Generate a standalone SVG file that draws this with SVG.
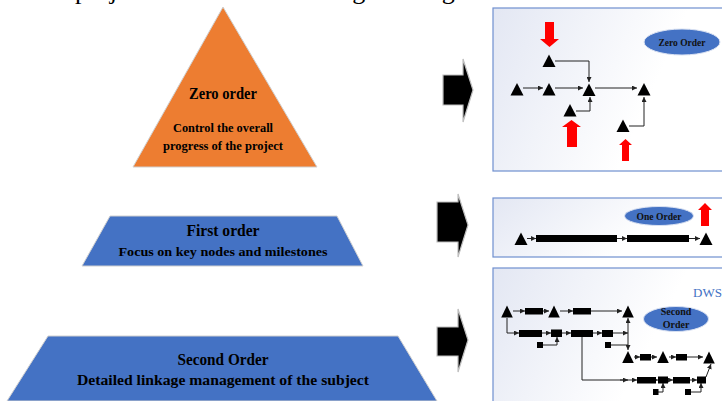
<svg xmlns="http://www.w3.org/2000/svg" xmlns:xlink="http://www.w3.org/1999/xlink" width="722" height="401" viewBox="0 0 722 401">
<style>
.cap{font-family:"Liberation Serif",serif;font-size:26px;fill:#000}
.ttl{font-family:"Liberation Serif",serif;font-weight:bold;font-size:16px;fill:#000;text-anchor:middle}
.sub{font-family:"Liberation Serif",serif;font-weight:bold;font-size:13px;fill:#000;text-anchor:middle}
.sub2{font-family:"Liberation Serif",serif;font-weight:bold;font-size:14.5px;fill:#000;text-anchor:middle}
.ell{fill:#4472C4;stroke:#D9E1F2;stroke-width:1}
.elt{font-family:"Liberation Serif",serif;font-weight:bold;font-size:10px;fill:#111;text-anchor:middle}
.panel{fill:url(#pg);stroke:#6F8FCF;stroke-width:1.2}
.blk{fill:#000;stroke:#BFBFBF;stroke-width:1.2}
.red{fill:#FF0000}
.ln{fill:none;stroke:#222;stroke-width:1;marker-end:url(#ah)}
.lnp{fill:none;stroke:#222;stroke-width:1}
.bar{fill:#000}
</style>
<defs>
<linearGradient id="pg" x1="0" y1="0" x2="1" y2="0.3">
<stop offset="0" stop-color="#E3E7F3"/>
<stop offset="0.75" stop-color="#FFFFFF"/>
</linearGradient>
<polygon id="tri" points="0,-6.5 6.5,6 -6.5,6" fill="#000"/>
<polygon id="tris" points="0,-6 5.8,6 -5.8,6" fill="#000"/>
<marker id="ah" viewBox="0 0 6 6" refX="6" refY="3" markerWidth="5" markerHeight="5" orient="auto" markerUnits="userSpaceOnUse">
<path d="M0,0 L6,3 L0,6 z" fill="#222"/>
</marker>
</defs>

<rect x="0" y="0" width="722" height="401" fill="#FFFFFF"/>

<g id="caption">
<text class="cap" x="57" y="-1">e project is divided into</text>
<text class="cap" x="309" y="-1">using the diagram</text>
</g>

<g id="zero-order">
<polygon points="223,7 317,167 133,167" fill="#ED7D31" stroke="#D0D0D0" stroke-width="1"/>
<text class="ttl" x="223" y="99" textLength="68" lengthAdjust="spacingAndGlyphs">Zero order</text>
<text class="sub" x="223" y="132" textLength="100" lengthAdjust="spacingAndGlyphs">Control the overall</text>
<text class="sub" x="223" y="150" textLength="120" lengthAdjust="spacingAndGlyphs">progress of the project</text>
</g>

<g id="first-order">
<polygon points="110,216 337,216 363,266 82,266" fill="#4472C4" stroke="#D0D0D0" stroke-width="1"/>
<text class="ttl" x="223" y="236" textLength="73" lengthAdjust="spacingAndGlyphs">First order</text>
<text class="sub" x="223" y="256" textLength="209" lengthAdjust="spacingAndGlyphs">Focus on key nodes and milestones</text>
</g>

<g id="second-order">
<polygon points="48,336 398,336 437,401 7,401" fill="#4472C4" stroke="#D0D0D0" stroke-width="1"/>
<text class="ttl" x="223" y="365" textLength="91" lengthAdjust="spacingAndGlyphs">Second Order</text>
<text class="sub2" x="223" y="385" textLength="292" lengthAdjust="spacingAndGlyphs">Detailed linkage management of the subject</text>
</g>

<g id="arrows">
<polygon class="blk" points="443,75 463,75 463,59 473,90 463,122 463,105 443,105"/>
<polygon class="blk" points="437,202 458,202 458,194 468,225 458,257 458,242 437,242"/>
<polygon class="blk" points="437,327 458,327 458,309 468,340 458,372 458,356 437,356"/>
</g>

<g id="panel-zero">
<rect class="panel" x="493" y="8" width="240" height="163"/>
<ellipse class="ell" cx="682" cy="42" rx="38" ry="13"/>
<text class="elt" x="682" y="46" textLength="47" lengthAdjust="spacingAndGlyphs">Zero Order</text>
<polygon class="red" points="545,22 554,22 554,39 559,39 549.5,47 540,39 545,39"/>
<polygon class="red" points="567,147 577,147 577,127 581,127 571.5,120 562,127 567,127"/>
<polygon class="red" points="622,161 629,161 629,145 632,145 625.5,139 619,145 622,145"/>
<g id="p0-connectors">
<line class="ln" x1="523" y1="88" x2="543" y2="88"/>
<line class="ln" x1="555" y1="88" x2="583" y2="88"/>
<line class="ln" x1="595" y1="88" x2="637" y2="88"/>
<polyline class="ln" points="555,61 589,61 589,82"/>
<polyline class="ln" points="576,111 590,111 590,97"/>
<polyline class="ln" points="629,126 644,126 644,97"/>
</g>
<use href="#tri" x="517" y="89.5"/>
<use href="#tri" x="549" y="89.5"/>
<use href="#tri" x="589" y="90"/>
<use href="#tri" x="644" y="89.5"/>
<use href="#tri" x="549" y="61"/>
<use href="#tri" x="570" y="110.5"/>
<use href="#tri" x="623" y="126"/>
</g>

<g id="panel-one">
<rect class="panel" x="493" y="198" width="240" height="59"/>
<ellipse class="ell" cx="659" cy="216" rx="34.5" ry="9.5"/>
<text class="elt" x="659" y="220" textLength="45" lengthAdjust="spacingAndGlyphs">One Order</text>
<polygon class="red" points="701,226 709,226 709,210 712,210 705,203 698,210 701,210"/>
<g id="p1-connectors">
<line class="ln" x1="527" y1="238.5" x2="536" y2="238.5"/>
<line class="ln" x1="617" y1="238.5" x2="627" y2="238.5"/>
<line class="ln" x1="689" y1="238.5" x2="700" y2="238.5"/>
</g>
<rect class="bar" x="536" y="235" width="81" height="7"/>
<rect class="bar" x="627" y="235" width="62" height="7"/>
<use href="#tri" x="521" y="239"/>
<use href="#tri" x="706" y="239"/>
</g>

<g id="panel-two">
<rect class="panel" x="493" y="268" width="240" height="140"/>
<text x="693" y="297" style="font-family:'Liberation Serif',serif;font-size:13px;fill:#4472C4">DWS</text>
<ellipse class="ell" cx="676" cy="319" rx="32.5" ry="12.5"/>
<text class="elt" x="676" y="315" font-size="9.5">Second</text>
<text class="elt" x="676" y="328" font-size="9.5">Order</text>
<g id="p2-connectors">
<line class="ln" x1="513" y1="311" x2="525" y2="311"/>
<line class="ln" x1="543" y1="311" x2="549" y2="311"/>
<line class="ln" x1="560" y1="311" x2="573" y2="311"/>
<line class="ln" x1="591" y1="311" x2="622" y2="311"/>
<polyline class="ln" points="507,318 507,333 519,333"/>
<line class="ln" x1="542" y1="333" x2="551" y2="333"/>
<line class="ln" x1="562" y1="333" x2="571" y2="333"/>
<line class="ln" x1="593" y1="333" x2="602" y2="333"/>
<line class="ln" x1="613" y1="333" x2="628" y2="333"/>
<polyline class="ln" points="543,345 557,345 557,337"/>
<line class="lnp" x1="611" y1="345" x2="628" y2="345"/>
<line class="ln" x1="628" y1="333" x2="628" y2="318"/>
<line class="ln" x1="628" y1="333" x2="628" y2="350"/>
<line class="ln" x1="634" y1="357" x2="640" y2="357"/>
<line class="ln" x1="651" y1="357" x2="657" y2="357"/>
<line class="ln" x1="669" y1="357" x2="676" y2="357"/>
<line class="ln" x1="687" y1="357" x2="703" y2="357"/>
<polyline class="lnp" points="582,337 582,380 628,380"/>
<line class="ln" x1="620" y1="380" x2="628" y2="380"/>
<line class="ln" x1="628" y1="380" x2="637" y2="380"/>
<line class="ln" x1="656" y1="380" x2="658" y2="380"/>
<line class="ln" x1="668" y1="380" x2="673" y2="380"/>
<line class="ln" x1="690" y1="380" x2="697" y2="380"/>
<line class="ln" x1="706" y1="377" x2="711" y2="364"/>
<polyline class="ln" points="658,392 663,392 663,383"/>
<polyline class="ln" points="691,392 701,392 701,383"/>
</g>
<rect class="bar" x="525" y="308" width="18" height="6.5"/>
<rect class="bar" x="573" y="308" width="18" height="6.5"/>
<rect class="bar" x="519" y="330" width="23" height="7"/>
<rect class="bar" x="551" y="329.5" width="11" height="7.5"/>
<rect class="bar" x="571" y="330" width="22" height="7"/>
<rect class="bar" x="602" y="330" width="11" height="7"/>
<rect class="bar" x="537" y="342" width="6" height="6"/>
<rect class="bar" x="605" y="342" width="6" height="6"/>
<rect class="bar" x="640" y="354" width="11" height="6.5"/>
<rect class="bar" x="676" y="354" width="11" height="6.5"/>
<rect class="bar" x="637" y="377" width="19" height="6.5"/>
<rect class="bar" x="658" y="376.5" width="10" height="7"/>
<rect class="bar" x="673" y="377" width="17" height="6.5"/>
<rect class="bar" x="697" y="376.5" width="9" height="7"/>
<rect class="bar" x="653" y="389" width="5.5" height="6"/>
<rect class="bar" x="685" y="389" width="6" height="6"/>
<use href="#tris" x="507" y="311.5"/>
<use href="#tris" x="554" y="311.5"/>
<use href="#tris" x="628" y="311.5"/>
<use href="#tris" x="628" y="357"/>
<use href="#tris" x="663" y="357"/>
<use href="#tris" x="709" y="357.5"/>
</g>
</svg>
